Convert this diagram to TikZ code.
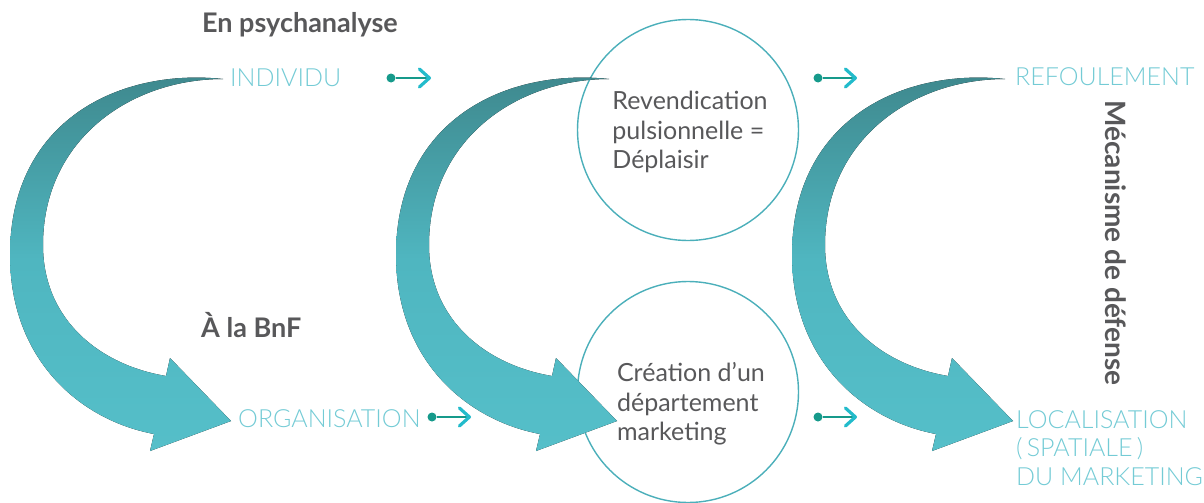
\documentclass[tikz,border=0pt]{standalone}
\usepackage{fontspec}
\setmainfont{Lato}
\newfontfamily\lightfont{Lato Light}
\usetikzlibrary{arrows.meta}

\definecolor{arrowtop}{HTML}{3E878C}
\definecolor{arrowmid}{HTML}{4FB6C0}
\definecolor{arrowbot}{HTML}{55BFC9}
\definecolor{labelcyan}{HTML}{74CBD5}
\definecolor{textgrey}{HTML}{58585A}
\definecolor{ringcol}{HTML}{4BAFBA}
\definecolor{dotteal}{HTML}{169A8B}
\definecolor{chevcyan}{HTML}{22BBCB}

\tikzset{
  bigarrow/.style={top color=arrowtop, bottom color=arrowbot, middle color=arrowmid, draw=none},
  steplabel/.style={font=\lightfont\fontsize{25}{28.5}\selectfont, text=labelcyan, inner sep=0pt, align=left},
  heading/.style={font=\bfseries\fontsize{27}{30}\selectfont, text=textgrey, inner sep=0pt},
  bubble/.style={circle, draw=ringcol, line width=1.4pt, minimum size=221pt, inner sep=0pt},
  bubbletext/.style={font=\fontsize{25}{29.5}\selectfont, text=textgrey, inner sep=0pt, align=left},
  linkdot/.style={circle, fill=dotteal, minimum size=9pt, inner sep=0pt},
  link/.style={dotteal, line width=2.6pt, -{Straight Barb[color=chevcyan, length=10pt, width=18pt, line width=3.2pt, round]}},
}

\begin{document}
\begin{tikzpicture}[x=1pt, y=-1pt]

    \useasboundingbox (0,0) rectangle (1204,503);

    % Circles in the middle
    \node[bubble] (revcircle) at (688,130) {};
    \node[bubble] (creacircle) at (688,392) {};

    % Curved arrows
    \foreach \dx in {0,386,782}{
        \fill[bigarrow, xshift=\dx pt] (223,79) .. controls (120,68) and (10,120) .. (10,255)
            .. controls (10,360) and (80,420) .. (154,434)
            -- (150,451) -- (231,421) -- (170,358) -- (166,376)
            .. controls (100,365) and (43,320) .. (43,245)
            .. controls (43,140) and (130,79) .. cycle;
    }

    % Headings
    \node[heading, anchor=base west] (psy) at (202,33) {En psychanalyse};
    \node[heading, anchor=base west] (bnf) at (201,337) {À la BnF};
    \node[heading, rotate=-90, font=\bfseries\fontsize{28}{30}\selectfont] (mecanisme) at (1116,243) {Mécanisme de défense};

    % Labels
    \node[steplabel, anchor=base west] (individu) at (230,86) {INDIVIDU};
    \node[steplabel, anchor=base west] (organisation) at (238,427) {ORGANISATION};
    \node[steplabel, anchor=base west] (refoulement) at (1015,85) {REFOULEMENT};
    \node[steplabel, anchor=base west] (localisation) at (1016,485) {LOCALISATION\\(\,SPATIALE\,)\\DU MARKETING};

    \node[bubbletext] (revtext) at (690,132) {Revendication\\pulsionnelle =\\Déplaisir};
    \node[bubbletext] (creatext) at (691,404) {Création d’un\\département\\marketing};

    % Small links
    \node[linkdot] (d1) at (391,78) {};
    \coordinate (t1) at (431,78);
    \draw[link] (d1) -- (t1);

    \node[linkdot] (d2) at (432,417) {};
    \coordinate (t2) at (471,417);
    \draw[link] (d2) -- (t2);

    \node[linkdot] (d3) at (818,78) {};
    \coordinate (t3) at (857,78);
    \draw[link] (d3) -- (t3);

    \node[linkdot] (d4) at (818,417) {};
    \coordinate (t4) at (857,417);
    \draw[link] (d4) -- (t4);

\end{tikzpicture}
\end{document}
